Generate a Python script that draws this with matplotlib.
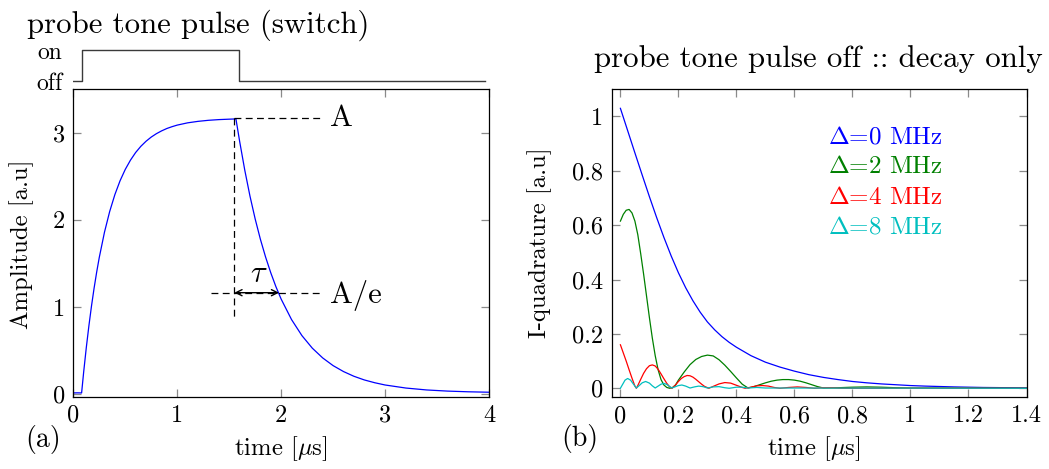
import numpy as np
import matplotlib
matplotlib.use("Agg")
import matplotlib.pyplot as plt
from matplotlib.ticker import FuncFormatter

# ---------------- data ----------------
# (a) probe tone switch: times where the state changes and the state after each change
switch_t = [0.0, 0.08, 1.59, 3.96]
switch_state = [0, 1, 0, 0]

# (a) measured amplitude
t_a = [0.0, 0.04, 0.08, 0.10, 0.125, 0.15, 0.175, 0.20, 0.225, 0.25, 0.30, 0.35,
       0.40, 0.45, 0.50, 0.55, 0.60, 0.65, 0.70, 0.75, 0.80, 0.85, 0.90, 0.95,
       1.00, 1.10, 1.20, 1.30, 1.40, 1.50, 1.565, 1.60, 1.65, 1.70, 1.75, 1.80,
       1.85, 1.90, 1.95, 2.00, 2.10, 2.20, 2.30, 2.40, 2.50, 2.60, 2.70, 2.80,
       2.90, 3.00, 3.20, 3.40, 3.60, 3.80, 4.00]
amp_a = [0.015, 0.016, 0.015, 0.257, 0.534, 0.784, 1.011, 1.216, 1.401, 1.569,
         1.858, 2.095, 2.289, 2.448, 2.578, 2.684, 2.772, 2.843, 2.901, 2.949,
         2.988, 3.020, 3.047, 3.068, 3.086, 3.112, 3.129, 3.141, 3.149, 3.154,
         3.157, 2.904, 2.569, 2.272, 2.010, 1.778, 1.574, 1.393, 1.232, 1.091,
         0.856, 0.672, 0.528, 0.416, 0.328, 0.260, 0.206, 0.164, 0.132, 0.106,
         0.071, 0.049, 0.036, 0.028, 0.023]

# annotation quantities for (a)
A = 3.165
t_off = 1.55
tau = 0.43

# (b) I-quadrature decay for several detunings
t_d0 = [0.000, 0.025, 0.050, 0.075, 0.100, 0.125, 0.150, 0.175, 0.200, 0.225,
        0.250, 0.275, 0.300, 0.325, 0.350, 0.375, 0.400, 0.45, 0.50, 0.55,
        0.60, 0.65, 0.70, 0.75, 0.80, 0.85, 0.90, 0.95, 1.00, 1.05, 1.10, 1.15,
        1.20, 1.25, 1.30, 1.35, 1.40]
i_d0 = [1.030, 0.948, 0.866, 0.785, 0.705, 0.628, 0.555, 0.487, 0.425, 0.370,
        0.322, 0.280, 0.244, 0.215, 0.190, 0.169, 0.151, 0.120, 0.096, 0.078,
        0.063, 0.050, 0.040, 0.032, 0.025, 0.020, 0.016, 0.013, 0.010, 0.008,
        0.0065, 0.005, 0.004, 0.003, 0.0025, 0.002, 0.0015]

t_d2 = [0.00, 0.01, 0.02, 0.03, 0.04, 0.05, 0.06, 0.07, 0.08, 0.09, 0.10, 0.11,
        0.12, 0.13, 0.14, 0.15, 0.16, 0.17, 0.18, 0.19, 0.20, 0.22, 0.24, 0.26,
        0.28, 0.30, 0.32, 0.34, 0.36, 0.38, 0.40, 0.42, 0.44, 0.46, 0.48, 0.50,
        0.52, 0.54, 0.56, 0.58, 0.60, 0.62, 0.64, 0.66, 0.68, 0.70, 0.75, 0.80,
        0.85, 0.90, 0.95, 1.00, 1.40]
i_d2 = [0.615, 0.640, 0.655, 0.658, 0.645, 0.615, 0.565, 0.495, 0.420, 0.340,
        0.260, 0.185, 0.120, 0.068, 0.032, 0.012, 0.003, 0.000, 0.003, 0.012,
        0.030, 0.060, 0.087, 0.106, 0.117, 0.122, 0.119, 0.105, 0.085, 0.062,
        0.038, 0.015, 0.001, 0.006, 0.013, 0.020, 0.026, 0.030, 0.032, 0.032,
        0.030, 0.026, 0.020, 0.013, 0.006, 0.001, 0.002, 0.004, 0.005, 0.004,
        0.002, 0.001, 0.000]

t_d4 = [0.00, 0.01, 0.02, 0.03, 0.04, 0.05, 0.055, 0.06, 0.07, 0.08, 0.09, 0.10,
        0.11, 0.12, 0.13, 0.14, 0.15, 0.16, 0.17, 0.178, 0.19, 0.20, 0.21, 0.22,
        0.23, 0.24, 0.25, 0.26, 0.27, 0.28, 0.29, 0.305, 0.32, 0.34, 0.36, 0.38,
        0.40, 0.42, 0.43, 0.45, 0.47, 0.49, 0.51, 0.53, 0.55, 0.58, 0.61, 0.64,
        0.67, 0.70, 0.73, 0.76, 1.40]
i_d4 = [0.160, 0.130, 0.100, 0.068, 0.037, 0.008, 0.000, 0.010, 0.033, 0.055,
        0.072, 0.083, 0.086, 0.082, 0.070, 0.053, 0.035, 0.018, 0.005, 0.000,
        0.012, 0.025, 0.036, 0.043, 0.047, 0.046, 0.041, 0.033, 0.024, 0.015,
        0.007, 0.000, 0.007, 0.016, 0.021, 0.019, 0.011, 0.003, 0.000, 0.004,
        0.009, 0.010, 0.008, 0.003, 0.000, 0.003, 0.005, 0.003, 0.000, 0.002,
        0.002, 0.000, 0.000]

t_d8 = [0.000, 0.008, 0.016, 0.025, 0.035, 0.045, 0.055, 0.065, 0.075, 0.087,
        0.100, 0.110, 0.120, 0.130, 0.140, 0.150, 0.160, 0.170, 0.178, 0.190,
        0.200, 0.212, 0.225, 0.240, 0.255, 0.270, 0.285, 0.300, 0.320, 0.340,
        0.360, 0.375, 0.400, 0.420, 0.440, 0.470, 0.500, 1.400]
i_d8 = [0.000, 0.015, 0.030, 0.036, 0.030, 0.015, 0.001, 0.010, 0.020, 0.025,
        0.019, 0.009, 0.001, 0.008, 0.015, 0.018, 0.014, 0.006, 0.001, 0.006,
        0.010, 0.012, 0.008, 0.001, 0.005, 0.008, 0.006, 0.001, 0.005, 0.006,
        0.002, 0.000, 0.004, 0.004, 0.001, 0.003, 0.001, 0.000]

series_b = [
    (t_d0, i_d0, "#0000ff", r"$\Delta$=0 MHz"),
    (t_d2, i_d2, "#008000", r"$\Delta$=2 MHz"),
    (t_d4, i_d4, "#ff0000", r"$\Delta$=4 MHz"),
    (t_d8, i_d8, "#00bfbf", r"$\Delta$=8 MHz"),
]

ticks_a_x = [0, 1, 2, 3, 4]
ticks_a_y = [0, 1, 2, 3]
ticks_b_x = [0, 0.2, 0.4, 0.6, 0.8, 1.0, 1.2, 1.4]
ticks_b_y = [0, 0.2, 0.4, 0.6, 0.8, 1.0]

# ---------------- style ----------------
plt.rcParams.update({
    "font.family": "cmr10",
    "mathtext.fontset": "cm",
    "axes.formatter.use_mathtext": True,
    "font.size": 17.5,
})

TICK_FS = 17.5
LABEL_FS = 17.8
TITLE_FS = 22.2

W, H = 1049, 469
fig = plt.figure(figsize=(W / 100, H / 100), dpi=100)


def box(l, t, r, b):
    return [l / W, 1 - b / H, (r - l) / W, (b - t) / H]


def fx(px):
    return px / W


def fy(py):
    return 1 - py / H


fmt = FuncFormatter(lambda v, p: "%g" % round(v, 6))


def style(ax):
    ax.tick_params(direction="in", length=6, width=0.9, color="#8a8a8a",
                   top=True, right=True, labelsize=TICK_FS, pad=6)
    for s in ax.spines.values():
        s.set_linewidth(0.9)
        s.set_color("black")
    ax.xaxis.set_major_formatter(fmt)
    ax.yaxis.set_major_formatter(fmt)


# ---------------- panel (a) ----------------
axA = fig.add_axes(box(73.3, 89, 489, 396.5))
axA.plot(t_a, amp_a, color="#0000ff", lw=0.9)
axA.set_xlim(0, 4)
axA.set_ylim(-0.026, 3.5)
axA.set_xticks(ticks_a_x)
axA.set_yticks(ticks_a_y)
style(axA)

dash = dict(color="black", lw=0.9, linestyle=(0, (5.5, 3.5)))
axA.plot([t_off, 2.39], [A, A], **dash)
axA.plot([t_off, t_off], [A, 0.87], **dash)
axA.plot([1.325, 2.39], [A / np.e, A / np.e], **dash)
axA.annotate("", xy=(t_off, A / np.e), xytext=(t_off + tau, A / np.e),
             arrowprops=dict(arrowstyle="<->", lw=1.0, color="black",
                             shrinkA=0, shrinkB=0, mutation_scale=11))
axA.text(t_off + tau / 2 + 0.02, 1.38, r"$\tau$", fontsize=22,
         ha="center", va="center")
axA.text(2.47, A, "A", fontsize=22, ha="left", va="center")
axA.text(2.47, A / np.e - 0.03, "A/e", fontsize=22, ha="left", va="center")

# switch trace above (a)
axS = fig.add_axes(box(73.3, 40, 489, 88))
axS.step(switch_t, switch_state, where="post", color="#3a3a3a", lw=1.0)
axS.set_xlim(0, 4)
axS.set_ylim(-0.226, 1.323)
for s in axS.spines.values():
    s.set_visible(False)
axS.set_xticks([])
axS.set_yticks([0, 1])
axS.set_yticklabels(["off", "on"])
axS.tick_params(axis="y", length=0, labelsize=17, pad=8)

fig.text(fx(27), fy(33), "probe tone pulse (switch)", fontsize=TITLE_FS,
         ha="left", va="baseline")
fig.text(fx(22), fy(244), "Amplitude [a.u]", rotation=90,
         ha="center", va="center", fontsize=LABEL_FS)
fig.text(fx(281), fy(449), r"time [$\mu$s]", ha="center", va="center",
         fontsize=LABEL_FS)
fig.text(fx(43), fy(439), "(a)", ha="center", va="center", fontsize=20)

# ---------------- panel (b) ----------------
axB = fig.add_axes(box(611.7, 89.3, 1026.5, 396.7))
for t, v, c, lab in series_b:
    axB.plot(t, v, color=c, lw=0.9)
axB.set_xlim(-0.03, 1.4)
axB.set_ylim(-0.031, 1.10)
axB.set_xticks(ticks_b_x)
axB.set_yticks(ticks_b_y)
style(axB)

for k, (t, v, c, lab) in enumerate(series_b):
    axB.text(0.5215, 0.845 - k * 0.0985, lab, color=c, fontsize=18,
             transform=axB.transAxes, ha="left", va="center")

fig.text(fx(818), fy(67), "probe tone pulse off :: decay only",
         fontsize=TITLE_FS, ha="center", va="baseline")
fig.text(fx(540), fy(243), "I-quadrature [a.u]", rotation=90,
         ha="center", va="center", fontsize=LABEL_FS)
fig.text(fx(814), fy(449), r"time [$\mu$s]", ha="center", va="center",
         fontsize=LABEL_FS)
fig.text(fx(580), fy(438), "(b)", ha="center", va="center", fontsize=20)

fig.savefig("out.png", dpi=100)
